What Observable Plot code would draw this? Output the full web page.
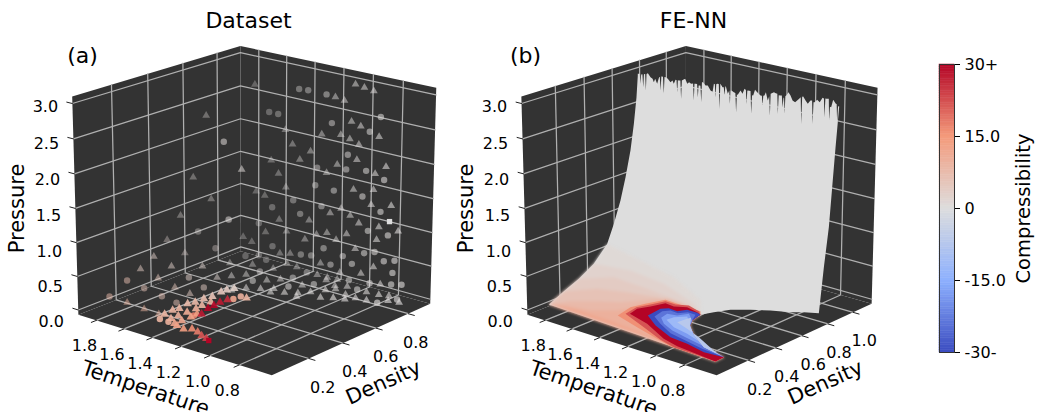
<!DOCTYPE html>
<html><head><meta charset="utf-8">
<script src="https://cdn.jsdelivr.net/npm/d3@7"></script>
<script src="https://cdn.jsdelivr.net/npm/@observablehq/plot@0.6"></script>
<style>html,body{margin:0;padding:0;background:#fff;width:1037px;height:412px;overflow:hidden}
#c{position:relative;width:1037px;height:412px}#c>*{position:absolute;top:0}</style></head>
<body><div id="c"></div><script>
const temperatureTicks=[0.8,1.0,1.2,1.4,1.6,1.8];
const densityTicksA=[0.2,0.4,0.6,0.8];
const densityTicksB=[0.2,0.4,0.6,0.8,1.0];
const pressureTicks=[0,0.5,1,1.5,2,2.5,3];
const compressibilityStops=[-30,-15,0,15,30];
const coolwarm=["#3b4cc0","#8db0fe","#dddddd","#f49a7b","#b40426"];
// Dataset: [temperature, density, pressure]
const gasCircles=[[1.407,.85,2.77],[1.344,.85,2.78],[1.217,.85,2.78],[1.618,.85,2.33],[1.554,.85,2.33],[1.888,.80,1.79],[.848,.85,2.63],[.920,.85,2.38],[1.178,.85,2.38],[1.066,.85,1.97],[.940,.85,1.80],[1.277,.85,1.67],[1.076,.85,1.75],[.818,.85,1.73],[1.289,.85,1.40],[1.159,.85,1.39],[.962,.85,1.41],[1.595,.85,.90],[1.444,.85,1.09],[1.244,.85,1.11],[.838,.85,1.25],[1.394,.85,.91],[1.853,.80,.61],[1.692,.85,.60],[.921,.85,.92],[.785,.85,.93],[1.592,.85,.30],[1.226,.85,.48],[1.692,.85,.10],[1.791,.85,.03],[1.387,.85,.29],[1.313,.85,.32],[1.091,.85,.44],[.944,.85,.57],[.873,.85,.63],[.809,.85,.53],[.737,.85,.58],[1.638,.85,.06],[1.176,.85,.26],[1.027,.85,.36],[1.506,.70,.11],[1.343,.85,.04],[.749,.85,.39],[1.328,.75,.07],[1.438,.60,.11],[1.046,.85,.10],[1.179,.75,.06],[1.243,.65,.09],[.903,.85,.14],[.756,.85,.21],[.686,.85,.25],[.933,.80,.08],[.714,.85,.01],[.741,.75,.05]];
const gasTriangles=[[1.721,.85,2.69],[1.156,.85,2.77],[1.094,.85,2.75],[1.021,.85,3.02],[.961,.85,3.00],[.898,.85,2.98],[1.502,.85,2.12],[1.044,.85,2.47],[.981,.85,2.43],[1.247,.85,2.18],[1.116,.85,2.24],[1.054,.85,2.21],[.992,.85,2.16],[.857,.85,2.34],[1.451,.85,1.93],[1.324,.85,1.89],[1.399,.85,1.73],[1.603,.85,1.61],[1.817,.85,1.36],[1.004,.85,1.93],[.807,.85,1.93],[1.138,.85,1.79],[1.211,.85,1.63],[1.550,.85,1.44],[.879,.85,1.79],[1.497,.85,1.26],[1.024,.85,1.48],[.888,.85,1.55],[1.712,.85,1.08],[1.649,.85,1.05],[.902,.85,1.32],[.767,.85,1.38],[1.107,.85,1.15],[1.183,.85,1.04],[1.044,.85,1.08],[1.544,.85,.74],[1.330,.85,.85],[.984,.85,1.00],[.847,.85,1.02],[1.491,.85,.59],[.717,.85,1.03],[1.643,.85,.49],[1.204,.85,.73],[1.277,.85,.66],[1.067,.85,.79],[1.808,.85,.32],[1.744,.85,.28],[1.359,.85,.54],[1.139,.85,.66],[.861,.85,.82],[1.006,.85,.60],[1.538,.85,.22],[1.464,.85,.26],[1.247,.85,.24],[.879,.85,.40],[1.725,.70,.11],[1.619,.75,.10],[1.485,.85,.09],[1.415,.85,.08],[1.528,.80,.04],[1.110,.85,.18],[.964,.85,.25],[1.269,.85,.05],[1.592,.60,.09],[1.546,.65,.09],[1.397,.65,.09],[1.358,.70,.08],[1.198,.85,.05],[1.128,.85,.06],[1.149,.80,.09],[1.323,.55,.11],[1.426,.55,.06],[1.470,.50,.05],[1.288,.60,.08],[1.204,.70,.08],[.830,.85,.17],[1.088,.80,.04],[1.002,.80,.08],[1.041,.70,.11],[1.027,.75,.08],[1.253,.55,.10],[1.213,.60,.07],[1.088,.65,.10],[1.119,.60,.12],[1.128,.60,.06],[.869,.80,.08],[.785,.80,.09],[.770,.85,.03],[.958,.75,.04],[1.019,.65,.06],[.931,.65,.11],[.907,.70,.05],[.889,.75,.03],[.814,.75,.04],[.721,.80,.04],[.647,.80,.06]];
const brightSquare=[[.776,.85,1.14]];
// [temperature, density, pressure, compressibility]
const trailCircles=[[1.031,.10,2.82,1],[1.002,.10,1.76,1],[1.209,.10,1.47,1],[1.091,.10,1.30,2],[1.276,.10,.77,3],[1.849,.10,.14,8],[1.717,.10,.46,7],[1.594,.10,.42,6],[1.468,.10,.38,6],[1.365,.10,.35,6],[1.173,.10,.69,4]];
const trailTriangles=[[1.272,.20,2.98,1],[.914,.10,2.50,1],[1.239,.10,2.22,1],[1.118,.10,1.98,1],[1.329,.10,1.63,1],[1.425,.10,1.23,2],[1.302,.10,1.11,2],[1.521,.10,.93,3],[1.397,.10,.86,3],[1.181,.10,.99,2],[1.618,.10,.69,4],[1.081,.10,.89,2],[1.720,.10,.13,9],[1.597,.10,.11,9],[1.493,.10,.63,5],[1.375,.10,.57,5],[1.270,.10,.54,4],[1.492,.10,.10,9]];
const clusterTriangles=[[1.502,.14,.05,9],[1.508,.19,.05,9],[1.498,.22,.05,9],[1.514,.28,.05,8],[1.497,.31,.05,8],[1.497,.36,.05,7],[1.486,.40,.05,6],[1.496,.46,.05,5],[1.492,.49,.05,4],[1.475,.52,.05,3],[1.431,.12,.05,10],[1.430,.16,.05,10],[1.430,.21,.05,11],[1.429,.26,.05,10],[1.436,.30,.05,9],[1.435,.35,.05,9],[1.368,.09,.05,12],[1.367,.13,.05,12],[1.366,.18,.05,13],[1.372,.22,.05,14],[1.338,.08,.05,13],[1.279,.07,.05,14],[1.245,.09,.05,16],[1.193,.08,.05,18],[1.141,.06,.05,22],[1.096,.05,.05,24],[1.352,.23,.05,28],[1.381,.29,.05,30],[1.388,.33,.05,30],[1.394,.37,.05,28],[1.390,.41,.05,26],[1.327,.47,.05,9]];
const clusterCircles=[[1.472,.09,.05,9],[1.411,.09,.05,10],[1.372,.43,.05,12],[1.368,.47,.05,10],[1.369,.20,.05,18]];
const clusterSquare=[[1.067,.04,.05,30]];
// FE-NN surface outline
const sheetLeft=[[-.002,.142],[.104,.252],[.211,.347],[.319,.484],[.417,.706],[.468,.968],[.518,1.279],[.557,1.599],[.595,1.967],[.622,2.342],[.643,2.719],[.654,3.027]]; // density, pressure at T=1.8
const sheetTop=[[1.800,.654,3.051],[1.793,.657,3.053],[1.790,.658,3.05],[1.786,.659,2.910],[1.782,.661,3.05],[1.780,.662,3.046],[1.775,.663,3.05],[1.771,.664,2.865],[1.767,.666,3.05],[1.764,.667,3.059],[1.760,.668,3.06],[1.757,.669,2.820],[1.753,.671,3.06],[1.746,.674,3.073],[1.732,.679,3.019],[1.721,.683,2.997],[1.714,.685,2.951],[1.707,.688,3.000],[1.696,.691,2.931],[1.686,.696,3.030],[1.682,.697,3.03],[1.678,.698,2.838],[1.674,.700,3.04],[1.671,.701,3.043],[1.665,.703,3.04],[1.661,.704,2.794],[1.657,.706,3.04],[1.650,.708,3.038],[1.639,.712,3.016],[1.625,.717,2.972],[1.614,.721,2.998],[1.607,.723,2.952],[1.598,.727,3.012],[1.593,.729,3.01],[1.589,.730,2.835],[1.585,.731,3.01],[1.580,.733,3.006],[1.572,.736,3.01],[1.568,.737,2.744],[1.564,.739,3.01],[1.557,.741,3.022],[1.546,.745,3.039],[1.535,.749,2.969],[1.525,.752,2.996],[1.514,.756,2.974],[1.504,.760,2.98],[1.500,.761,2.737],[1.496,.762,2.98],[1.491,.764,2.980],[1.482,.767,2.98],[1.478,.768,2.790],[1.474,.770,2.96],[1.467,.772,2.962],[1.464,.773,2.96],[1.460,.775,2.722],[1.456,.776,3.01],[1.450,.778,3.014],[1.437,.783,2.969],[1.425,.787,2.972],[1.410,.792,2.904],[1.399,.795,2.882],[1.392,.798,3.004],[1.387,.800,3.00],[1.383,.801,2.814],[1.379,.802,3.00],[1.374,.804,3.009],[1.366,.807,3.01],[1.362,.809,2.650],[1.358,.810,3.01],[1.357,.810,3.013],[1.346,.814,2.968],[1.339,.816,2.97],[1.335,.817,2.850],[1.331,.819,2.98],[1.328,.820,2.982],[1.317,.823,2.879],[1.310,.826,2.93],[1.306,.827,2.737],[1.302,.829,2.93],[1.298,.830,2.932],[1.285,.834,2.911],[1.277,.837,2.90],[1.273,.839,2.625],[1.269,.840,2.88],[1.264,.841,2.879],[1.249,.846,2.944],[1.239,.850,2.899],[1.228,.853,2.974],[1.221,.856,2.96],[1.217,.857,2.760],[1.213,.858,2.95],[1.210,.859,2.955],[1.196,.864,2.95],[1.192,.866,2.622],[1.188,.867,2.89],[1.181,.868,2.890],[1.171,.871,2.974],[1.162,.876,2.945],[1.142,.881,2.900],[1.135,.884,2.90],[1.131,.885,2.759],[1.127,.886,2.90],[1.121,.888,2.906],[1.113,.890,2.956],[1.103,.894,2.839],[1.096,.897,2.90],[1.092,.899,2.625],[1.088,.899,2.94],[1.081,.900,2.950],[1.070,.904,2.967],[1.060,.907,2.956],[1.053,.911,2.95],[1.049,.912,2.661],[1.045,.913,2.93],[1.035,.915,2.929],[1.028,.918,2.93],[1.024,.920,2.764],[1.020,.922,2.90],[1.017,.923,2.90],[1.013,.924,2.671],[1.009,.924,2.93],[1.003,.925,2.938],[.992,.928,2.989],[.981,.932,2.944],[.970,.936,2.875],[.956,.940,2.855],[.945,.943,2.882],[.935,.947,2.909],[.928,.951,2.93],[.924,.953,2.551],[.920,.953,2.94],[.913,.953,2.948],[.901,.958,2.895],[.888,.961,2.850],[.874,.965,2.902],[.867,.970,2.90],[.863,.972,2.568],[.859,.972,2.88],[.852,.972,2.884],[.838,.976,2.921],[.824,.980,2.890],[.809,.984,2.958],[.803,.988,2.95],[.799,.990,2.683],[.795,.990,2.95],[.788,.991,2.950],[.778,.997,2.95],[.774,.998,2.642],[.770,.998,2.84],[.763,.999,2.837],[.752,1.001,2.946],[.738,1.006,2.892],[.735,1.009,2.89],[.731,1.011,2.631],[.727,1.011,2.86],[.720,1.012,2.859]];
const sheetRight=[[.990,2.292],[.970,1.728],[.950,1.158],[.917,.593],[.884,-.07]]; // density, pressure at T=0.72
const sheetBase=[[.738,.786],[.794,.745],[.894,.701],[.984,.646],[1.068,.584],[1.115,.509]];
const holeEdge=[[1.145,.441],[1.125,.359],[1.086,.302],[.975,.216],[.827,.134],[.657,.099]];
const lowEnd=[[.653,.034]];
// Compressibility bands on the floor: temperature, density
const bands=[
 {v:1,from:5,top:[[1.971,.830],[1.642,.753],[1.286,.589]]},
 {v:2.5,from:4,top:[[1.904,.687],[1.615,.650],[1.281,.533]]},
 {v:4,from:3,top:[[1.903,.562],[1.634,.544],[1.385,.516],[1.201,.475]]},
 {v:6,from:2,top:[[1.849,.386],[1.685,.446],[1.504,.488],[1.321,.475]]},
 {v:8,from:1,top:[[1.831,.178],[1.718,.260],[1.608,.323],[1.541,.402],[1.445,.502],[1.293,.495]]},
 {v:10,from:1,top:[[1.813,.114],[1.649,.147],[1.537,.229],[1.512,.276],[1.500,.361],[1.435,.480],[1.331,.485]]},
 {v:12,from:1,top:[[1.684,.109],[1.452,.104],[1.196,.082],[1.008,.083],[.923,.043]],open:true},
 {v:16,top:[[1.484,.181],[1.515,.303],[1.486,.383],[1.442,.487],[1.352,.482],[1.181,.478]],low:[[.968,.042],[1.094,.074],[1.288,.126]]},
 {v:22,top:[[1.468,.221],[1.490,.322],[1.458,.392],[1.428,.473],[1.352,.470],[1.286,.501],[1.188,.473]],low:[[.949,.045],[1.071,.075],[1.260,.146]]},
 {v:30,top:[[1.450,.235],[1.470,.307],[1.437,.372],[1.408,.452],[1.339,.444],[1.276,.478],[1.185,.458]],low:[[.944,.065],[1.067,.094],[1.279,.189]]},
 {v:-30,top:[[1.358,.273],[1.372,.379],[1.343,.411],[1.279,.407],[1.250,.451],[1.178,.451]],low:[[.782,.087],[.925,.116],[1.055,.130],[1.228,.198]],noEnd:true},
 {v:-24,top:[[1.321,.284],[1.341,.361],[1.313,.393],[1.256,.389],[1.224,.429],[1.166,.426]],low:[[.819,.114],[.963,.143],[1.093,.169],[1.224,.229]],noEnd:true,skip:1},
 {v:-18,top:[[1.280,.291],[1.294,.349],[1.236,.363],[1.203,.416]],low:[[.849,.145],[.994,.175],[1.111,.200],[1.210,.240]],noEnd:true,skip:1},
 {v:-12,top:[[1.238,.287],[1.233,.336],[1.184,.384]],low:[[.887,.172],[1.018,.212],[1.136,.237]],noEnd:true,skip:2},
 {v:-7,top:[[1.171,.297],[1.162,.360],[1.155,.382]],low:[[.714,.111],[.939,.215],[1.066,.261]],noEnd:true,skip:2}
];
const FLOOR=.02;
const T_DOM=[0.584,1.934],P_DOM=[-0.07,3.1];
const deg=Math.PI/180,TH=50*deg,EL=20*deg,DIST=10;
function makeProj(rhoDom,x0,sx,y0,sy){
 return (T,rho,P)=>{
  const u=(T-T_DOM[0])/(T_DOM[1]-T_DOM[0])-.5,v=(rho-rhoDom[0])/(rhoDom[1]-rhoDom[0])-.5,w=(P-P_DOM[0])/(P_DOM[1]-P_DOM[0])-.5;
  const R=-Math.sin(TH)*u+Math.cos(TH)*v,h=Math.cos(TH)*u+Math.sin(TH)*v;
  const U=Math.sin(EL)*h+Math.cos(EL)*w,Z=-Math.cos(EL)*h+Math.sin(EL)*w,f=DIST/(DIST-Z);
  return [x0+sx*R*f,y0-sy*U*f];
 };
}
const FONT="DejaVu Sans";
const colorScale={type:"linear",domain:compressibilityStops,range:coolwarm};
function frame(pr,rhoDom,tickRho,tOff,rOff){
 const [Ta,Tb]=T_DOM,[Ra,Rb]=rhoDom,[Pa,Pb]=P_DOM;
 const panes=[[[Ta,Ra,Pa],[Tb,Ra,Pa],[Tb,Rb,Pa],[Ta,Rb,Pa]],[[Tb,Ra,Pa],[Tb,Rb,Pa],[Tb,Rb,Pb],[Tb,Ra,Pb]],[[Tb,Rb,Pa],[Ta,Rb,Pa],[Ta,Rb,Pb],[Tb,Rb,Pb]]];
 const paneRows=panes.flatMap((p,i)=>p.map(q=>({q,i})));
 const lines=[];
 for(const T of temperatureTicks)lines.push([[T,Ra,Pa],[T,Rb,Pa],[T,Rb,Pb]]);
 for(const r of tickRho)lines.push([[Ta,r,Pa],[Tb,r,Pa],[Tb,r,Pb]]);
 for(const P of pressureTicks)lines.push([[Tb,Ra,P],[Tb,Rb,P],[Ta,Rb,P]]);
 const lineRows=lines.flatMap((l,i)=>l.map(q=>({q,i})));
 const dr=(Rb-Ra)*.03,dT=(Tb-Ta)*.03,ticks=[];
 for(const T of temperatureTicks)ticks.push([[T,Ra,Pa],[T,Ra-dr,Pa]]);
 for(const r of tickRho)ticks.push([[Ta,r,Pa],[Ta-dT,r,Pa]]);
 for(const P of pressureTicks)ticks.push([[Tb,Ra,P],[Tb+dT,Ra,P]]);
 const tickRows=ticks.flatMap((l,i)=>l.map(q=>({q,i})));
 const X=d=>pr(...d.q)[0],Y=d=>pr(...d.q)[1];
 return {back:[
  Plot.line(paneRows,{x:X,y:Y,z:"i",fill:"#333333",stroke:"none"}),
  Plot.line(lineRows,{x:X,y:Y,z:"i",stroke:"#b0b0b0",strokeWidth:1.25}),
 ],top:[
  Plot.line(tickRows,{x:X,y:Y,z:"i",stroke:"#222",strokeWidth:1}),
  Plot.text(temperatureTicks,{x:d=>pr(d,Ra,Pa)[0]+tOff[0],y:d=>pr(d,Ra,Pa)[1]+tOff[1],text:d=>d.toFixed(1),fontSize:16,fill:"#000"}),
  Plot.text(tickRho,{x:d=>pr(Ta,d,Pa)[0]+rOff[0]-(d-.2)*rOff[2],y:d=>pr(Ta,d,Pa)[1]+rOff[1],text:d=>d.toFixed(1),fontSize:16,fill:"#000"}),
  Plot.text(pressureTicks,{x:d=>pr(Tb,Ra,d)[0]-27,y:d=>pr(Tb,Ra,d)[1]+12-3*d,text:d=>d.toFixed(1),fontSize:16,fill:"#000"}),
 ]};
}
function panel(fr,left,extra,L,txt){
 const p=Plot.plot({width:450,height:412,margin:0,x:{type:"identity",axis:null},y:{type:"identity",axis:null},color:colorScale,opacity:{type:"identity"},style:{fontFamily:FONT,background:"transparent"},
  marks:[...fr.back,...extra,...fr.top,
   Plot.text([txt[0]],{x:()=>L.title[0],y:()=>L.title[1],text:d=>d,fontSize:22,fill:"#000"}),
   Plot.text([txt[1]],{x:()=>L.tag[0],y:()=>L.tag[1],text:d=>d,fontSize:22,fill:"#000"}),
   Plot.text(["Pressure"],{x:()=>L.p[0],y:()=>L.p[1],text:d=>d,fontSize:21,rotate:-90,fill:"#000"}),
   Plot.text(["Temperature"],{x:()=>L.t[0],y:()=>L.t[1],text:d=>d,fontSize:21,rotate:18.5,fill:"#000"}),
   Plot.text(["Density"],{x:()=>L.r[0],y:()=>L.r[1],text:d=>d,fontSize:21,rotate:-24,fill:"#000"}),
  ]});
 p.style.left=left+"px";document.getElementById("c").appendChild(p);
}
const domA=[-0.01,0.94],domB=[-0.03,1.15];
const prA=makeProj(domA,254.8,254,202,231);
const prB=makeProj(domB,250,248.5,202,231);
const alpha=d=>{const u=(d[0]-T_DOM[0])/(T_DOM[1]-T_DOM[0])-.5,v=(d[1]-domA[0])/(domA[1]-domA[0])-.5,h=Math.cos(TH)*u+Math.sin(TH)*v;return Math.max(.3,Math.min(.8,.64-.65*h));};
const dotMark=(rows,symbol,r,fill,op)=>Plot.dot(rows,{x:d=>prA(d[0],d[1],d[2])[0],y:d=>prA(d[0],d[1],d[2])[1],symbol:()=>symbol,r,fill,stroke:"none",fillOpacity:op});
const trailAlpha=d=>d[2]>1?.36:.5;
const aMarks=[
 dotMark(gasCircles,"circle",3.2,()=>0.5,alpha),
 dotMark(gasTriangles,"triangle",2.9,()=>0.5,alpha),
 dotMark(trailCircles,"circle",3.2,d=>d[3],trailAlpha),
 dotMark(trailTriangles,"triangle",2.9,d=>d[3],trailAlpha),
 dotMark(brightSquare,"square",3,()=>0,()=>1),
 dotMark(clusterCircles,"circle",3.2,d=>d[3],()=>.9),
 dotMark(clusterTriangles,"triangle",3.2,d=>d[3],()=>.9),
 dotMark(clusterSquare,"square",3,d=>d[3],()=>1),
];
const xy=(T,r)=>[T,r,FLOOR];
const sil=sheetLeft.map(([r,P])=>[1.8,r,P]);
const hole=holeEdge.map(([T,r])=>xy(T,r));
const end=lowEnd.map(([T,r])=>xy(T,r));
const sheet=[...sil,...sheetTop,...sheetRight.map(([r,P])=>[.72,r,P]),...sheetBase.map(([T,r])=>xy(T,r)),...hole,...end];
const sheetRows=sheet.map(q=>({q,v:0,i:0}));
const bandRows=bands.map((b,i)=>{
 const start=b.from?sil.slice(0,b.from):[];
 const top=b.top.map(([T,r])=>xy(T,r));
 const low=(b.low||[]).map(([T,r])=>xy(T,r));
 const pts=b.open?[...start,...top]:[...start,...top,...hole.slice(b.skip||0),...(b.noEnd?[]:end),...low];
 return pts.map(q=>({q,v:b.v,i:i+1}));
});
const polyMark=(rows,extra={})=>Plot.line(rows,{x:d=>prB(...d.q)[0],y:d=>prB(...d.q)[1],z:"i",fill:"v",stroke:"none",...extra});
const bMarks=[
 polyMark(sheetRows),
 polyMark(bandRows.slice(0,7).flat(),{imageFilter:"blur(1.6px)"}),
 polyMark(bandRows.slice(7,11).flat()),
 polyMark(bandRows.slice(11).flat(),{imageFilter:"blur(0.7px)"}),
];
panel(frame(prA,domA,densityTicksA,[-12,26],[14,29,11]),0,aMarks,{title:[248,20],tag:[82,55],p:[17,208],t:[145,388],r:[383,382]},["Dataset","(a)"]);
panel(frame(prB,domB,densityTicksB,[-12,26],[11,29,0]),450,bMarks,{title:[243,20],tag:[75,55],p:[16,208],t:[143,388],r:[375,382]},["FE-NN","(b)"]);
const tickText={"-30":"-30-","-15":"-15.0","0":"0","15":"15.0","30":"30+"};
const cb=Plot.plot({width:137,height:412,marginLeft:39,marginRight:83,marginTop:64,marginBottom:60,x:{domain:[0,1],axis:null},
 y:{domain:[-30,30],axis:null},color:colorScale,style:{fontFamily:FONT,background:"transparent"},
 marks:[Plot.rect(d3.range(-30,30,0.5),{x1:0,x2:1,y1:d=>d,y2:d=>d+.5,fill:d=>d+.25,stroke:d=>d+.25,strokeWidth:.5}),
  Plot.frame({stroke:"#333",strokeWidth:1}),
  Plot.axisY({anchor:"right",ticks:compressibilityStops,tickFormat:d=>tickText[d],tickSize:5,fontSize:16,label:null,tickPadding:5}),
  Plot.text(["Compressibility"],{frameAnchor:"right",dx:69,textAnchor:"middle",text:d=>d,rotate:-90,fontSize:19.5,fill:"#000"})]});
cb.style.left="900px";document.getElementById("c").appendChild(cb);
</script></body></html>
